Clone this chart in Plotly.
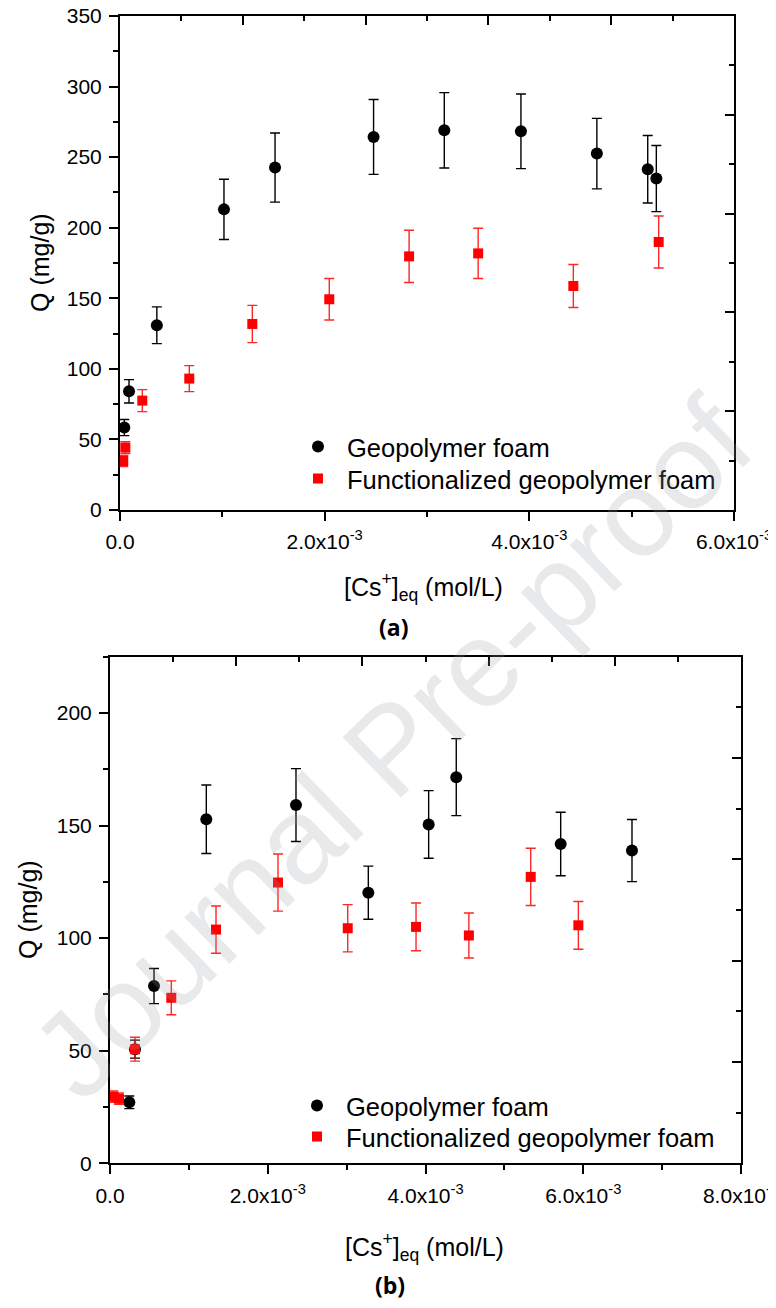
import plotly.graph_objects as go

# ---------------- data (a) ----------------
a_geo_x = [4.2e-5, 8.8e-5, 3.6e-4, 1.016e-3, 1.515e-3, 2.478e-3, 3.169e-3, 3.918e-3, 4.66e-3, 5.157e-3, 5.241e-3]
a_geo_q = [58.4, 84.1, 130.9, 213.0, 242.6, 264.3, 269.0, 268.3, 252.5, 241.4, 234.8]
a_geo_err = [5.7, 8.3, 13.0, 21.3, 24.5, 26.5, 26.7, 26.4, 25.0, 23.9, 23.4]

a_fun_x = [3.2e-5, 5.2e-5, 2.18e-4, 6.77e-4, 1.293e-3, 2.045e-3, 2.825e-3, 3.5e-3, 4.43e-3, 5.264e-3]
a_fun_q = [34.7, 44.2, 77.5, 93.1, 131.8, 149.3, 179.7, 181.8, 158.7, 189.9]
a_fun_err = [4.0, 4.2, 7.8, 9.2, 13.2, 14.7, 18.5, 17.8, 15.2, 18.4]

# ---------------- data (b) ----------------
b_geo_x = [2.45e-4, 3.17e-4, 5.58e-4, 1.221e-3, 2.358e-3, 3.275e-3, 4.04e-3, 4.39e-3, 5.714e-3, 6.618e-3]
b_geo_q = [27.1, 50.7, 78.7, 152.8, 159.1, 120.2, 150.5, 171.5, 141.8, 138.9]
b_geo_err = [2.8, 4.0, 7.8, 15.2, 16.2, 11.8, 15.0, 17.1, 14.1, 13.8]

b_fun_x = [4.2e-5, 1.14e-4, 3.17e-4, 7.77e-4, 1.344e-3, 2.13e-3, 3.014e-3, 3.88e-3, 4.55e-3, 5.334e-3, 5.938e-3]
b_fun_q = [29.6, 28.7, 50.7, 73.5, 103.8, 124.7, 104.4, 105.0, 101.2, 127.2, 105.7]
b_fun_err = [2.5, 2.5, 5.3, 7.5, 10.5, 12.7, 10.5, 10.6, 10.0, 12.7, 10.6]

a_xticks = [0, 2e-3, 4e-3, 6e-3]
a_xlabels = ["0.0", "2.0x10<sup>-3</sup>", "4.0x10<sup>-3</sup>", "6.0x10<sup>-3</sup>"]
b_xticks = [0, 2e-3, 4e-3, 6e-3, 8e-3]
b_xlabels = ["0.0", "2.0x10<sup>-3</sup>", "4.0x10<sup>-3</sup>", "6.0x10<sup>-3</sup>", "8.0x10<sup>-3</sup>"]

names = ["Geopolymer foam", "Functionalized geopolymer foam"]

# page body has an 8px margin: the figure starts at (8, 8) of the window
OX, OY = 8, 8
W, H = 768, 1292
FONT = "Liberation Sans, Arial, sans-serif"
RED = "#ff0000"
ERR_RED = "rgba(255,0,0,0.85)"


def fx(px):
    return (px - OX) / W


def fy(py):
    return 1 - (py - OY) / H


fig = go.Figure()


def add_series(x, q, err, name, symbol, color, ecolor, size, xa, ya, legend):
    fig.add_trace(go.Scatter(
        x=x, y=q, mode="markers", name=name,
        marker=dict(symbol=symbol, size=size, color=color, line=dict(width=0)),
        error_y=dict(type="data", array=err, visible=True, color=ecolor, thickness=1.4, width=5),
        xaxis=xa, yaxis=ya, legend=legend,
    ))


add_series(a_geo_x, a_geo_q, a_geo_err, names[0], "circle", "black", "black", 12, "x", "y", "legend")
add_series(a_fun_x, a_fun_q, a_fun_err, names[1], "square", RED, ERR_RED, 10, "x", "y", "legend3")
add_series(b_geo_x, b_geo_q, b_geo_err, names[0], "circle", "black", "black", 12, "x2", "y2", "legend2")
add_series(b_fun_x, b_fun_q, b_fun_err, names[1], "square", RED, ERR_RED, 10, "x2", "y2", "legend4")

# dummy traces to materialise the decorative top/right axes
for xa, ya in [("x3", "y"), ("x", "y3"), ("x4", "y2"), ("x2", "y4")]:
    fig.add_trace(go.Scatter(x=[None], y=[None], xaxis=xa, yaxis=ya, showlegend=False, hoverinfo="skip"))

tickfont = dict(family=FONT, size=21, color="black")

base_ax = dict(showline=True, linewidth=2, linecolor="black", showgrid=False, zeroline=False,
               ticks="outside", ticklen=9, tickwidth=1.5, tickcolor="black", tickfont=tickfont,
               automargin=False, ticklabeloverflow="allow")

deco_ax = dict(showline=True, linewidth=2, linecolor="black", showgrid=False, zeroline=False,
               ticks="inside", ticklen=9, tickwidth=1.5, tickcolor="black", showticklabels=False,
               automargin=False)

# ----- chart (a) -----
fig.update_layout(
    xaxis=dict(base_ax, domain=[fx(120), fx(734)], range=[0, 6e-3], anchor="y",
               tickmode="array", tickvals=a_xticks, ticktext=a_xlabels, ticklabelstandoff=3,
               minor=dict(tickmode="array", tickvals=[1e-3, 3e-3, 5e-3], ticks="outside", ticklen=5,
                          tickwidth=1.5, tickcolor="black", showgrid=False)),
    yaxis=dict(base_ax, domain=[fy(510), fy(16)], range=[0, 350], anchor="x",
               tick0=0, dtick=50, ticklabelstandoff=3,
               minor=dict(tick0=0, dtick=25, ticks="outside", ticklen=5, tickwidth=1.5,
                          tickcolor="black", showgrid=False)),
    xaxis3=dict(deco_ax, overlaying="x", side="top", anchor="y", range=[0, 5], dtick=1, tick0=0,
                minor=dict(tick0=0, dtick=0.5, ticks="inside", ticklen=5, tickwidth=1.5,
                           tickcolor="black", showgrid=False)),
    yaxis3=dict(deco_ax, overlaying="y", side="right", anchor="x", range=[0, 10], dtick=2, tick0=0,
                minor=dict(tick0=0, dtick=1, ticks="inside", ticklen=5, tickwidth=1.5,
                           tickcolor="black", showgrid=False)),
)

# ----- chart (b) -----
fig.update_layout(
    xaxis2=dict(base_ax, domain=[fx(110), fx(741)], range=[0, 8e-3], anchor="y2",
                tickmode="array", tickvals=b_xticks, ticktext=b_xlabels, ticklabelstandoff=3,
                minor=dict(tickmode="array", tickvals=[1e-3, 3e-3, 5e-3, 7e-3], ticks="outside", ticklen=5,
                           tickwidth=1.5, tickcolor="black", showgrid=False)),
    yaxis2=dict(base_ax, domain=[fy(1163.3), fy(656.7)], range=[0, 225], anchor="x2",
                tick0=0, dtick=50, ticklabelstandoff=3,
                minor=dict(tick0=0, dtick=25, ticks="outside", ticklen=5, tickwidth=1.5,
                           tickcolor="black", showgrid=False)),
    xaxis4=dict(deco_ax, overlaying="x2", side="top", anchor="y2", range=[0, 5], dtick=1, tick0=0,
                minor=dict(tick0=0, dtick=0.5, ticks="inside", ticklen=5, tickwidth=1.5,
                           tickcolor="black", showgrid=False)),
    yaxis4=dict(deco_ax, overlaying="y2", side="right", anchor="x2", range=[0, 10], dtick=2, tick0=0,
                minor=dict(tick0=0, dtick=1, ticks="inside", ticklen=5, tickwidth=1.5,
                           tickcolor="black", showgrid=False)),
)

legfont = dict(family=FONT, size=25.5, color="black")


def leg(px, py):
    return dict(x=fx(px), y=fy(py), xanchor="left", yanchor="middle", bgcolor="rgba(0,0,0,0)",
                font=legfont, itemwidth=48, tracegroupgap=0, borderwidth=0)


fig.update_layout(
    legend=leg(289, 447),
    legend3=leg(289, 479),
    legend2=leg(288, 1106),
    legend4=leg(288, 1137),
)


def note(text, px, py, font, angle=0):
    return dict(text=text, x=fx(px), y=fy(py), xref="paper", yref="paper", showarrow=False,
                xanchor="center", yanchor="middle", textangle=angle, font=font)


titlefont = dict(family=FONT, size=25, color="black")
labfont = dict(family="Open Sans, Liberation Sans, sans-serif", size=23, color="black")
ann = [
    note("Q (mg/g)", 40, 263, titlefont, -90),
    note("Q (mg/g)", 28, 910, titlefont, -90),
    note("[Cs<sup>+</sup>]<sub>eq</sub> (mol/L)", 423, 587, titlefont),
    note("[Cs<sup>+</sup>]<sub>eq</sub> (mol/L)", 424, 1247, titlefont),
    note("<b>(a)</b>", 393, 627, labfont),
    note("<b>(b)</b>", 390, 1285, labfont),
    # watermark
    note("Journal Pre-proof", 392, 748, dict(family=FONT, size=122, color="rgba(150,155,165,0.22)"), -44),
]

fig.update_layout(
    annotations=ann,
    width=W, height=H, autosize=False,
    margin=dict(l=0, r=0, t=0, b=0, autoexpand=False),
    paper_bgcolor="white", plot_bgcolor="rgba(0,0,0,0)",
    showlegend=True,
    font=dict(family=FONT, color="black"),
)

fig.write_html("out.html")
